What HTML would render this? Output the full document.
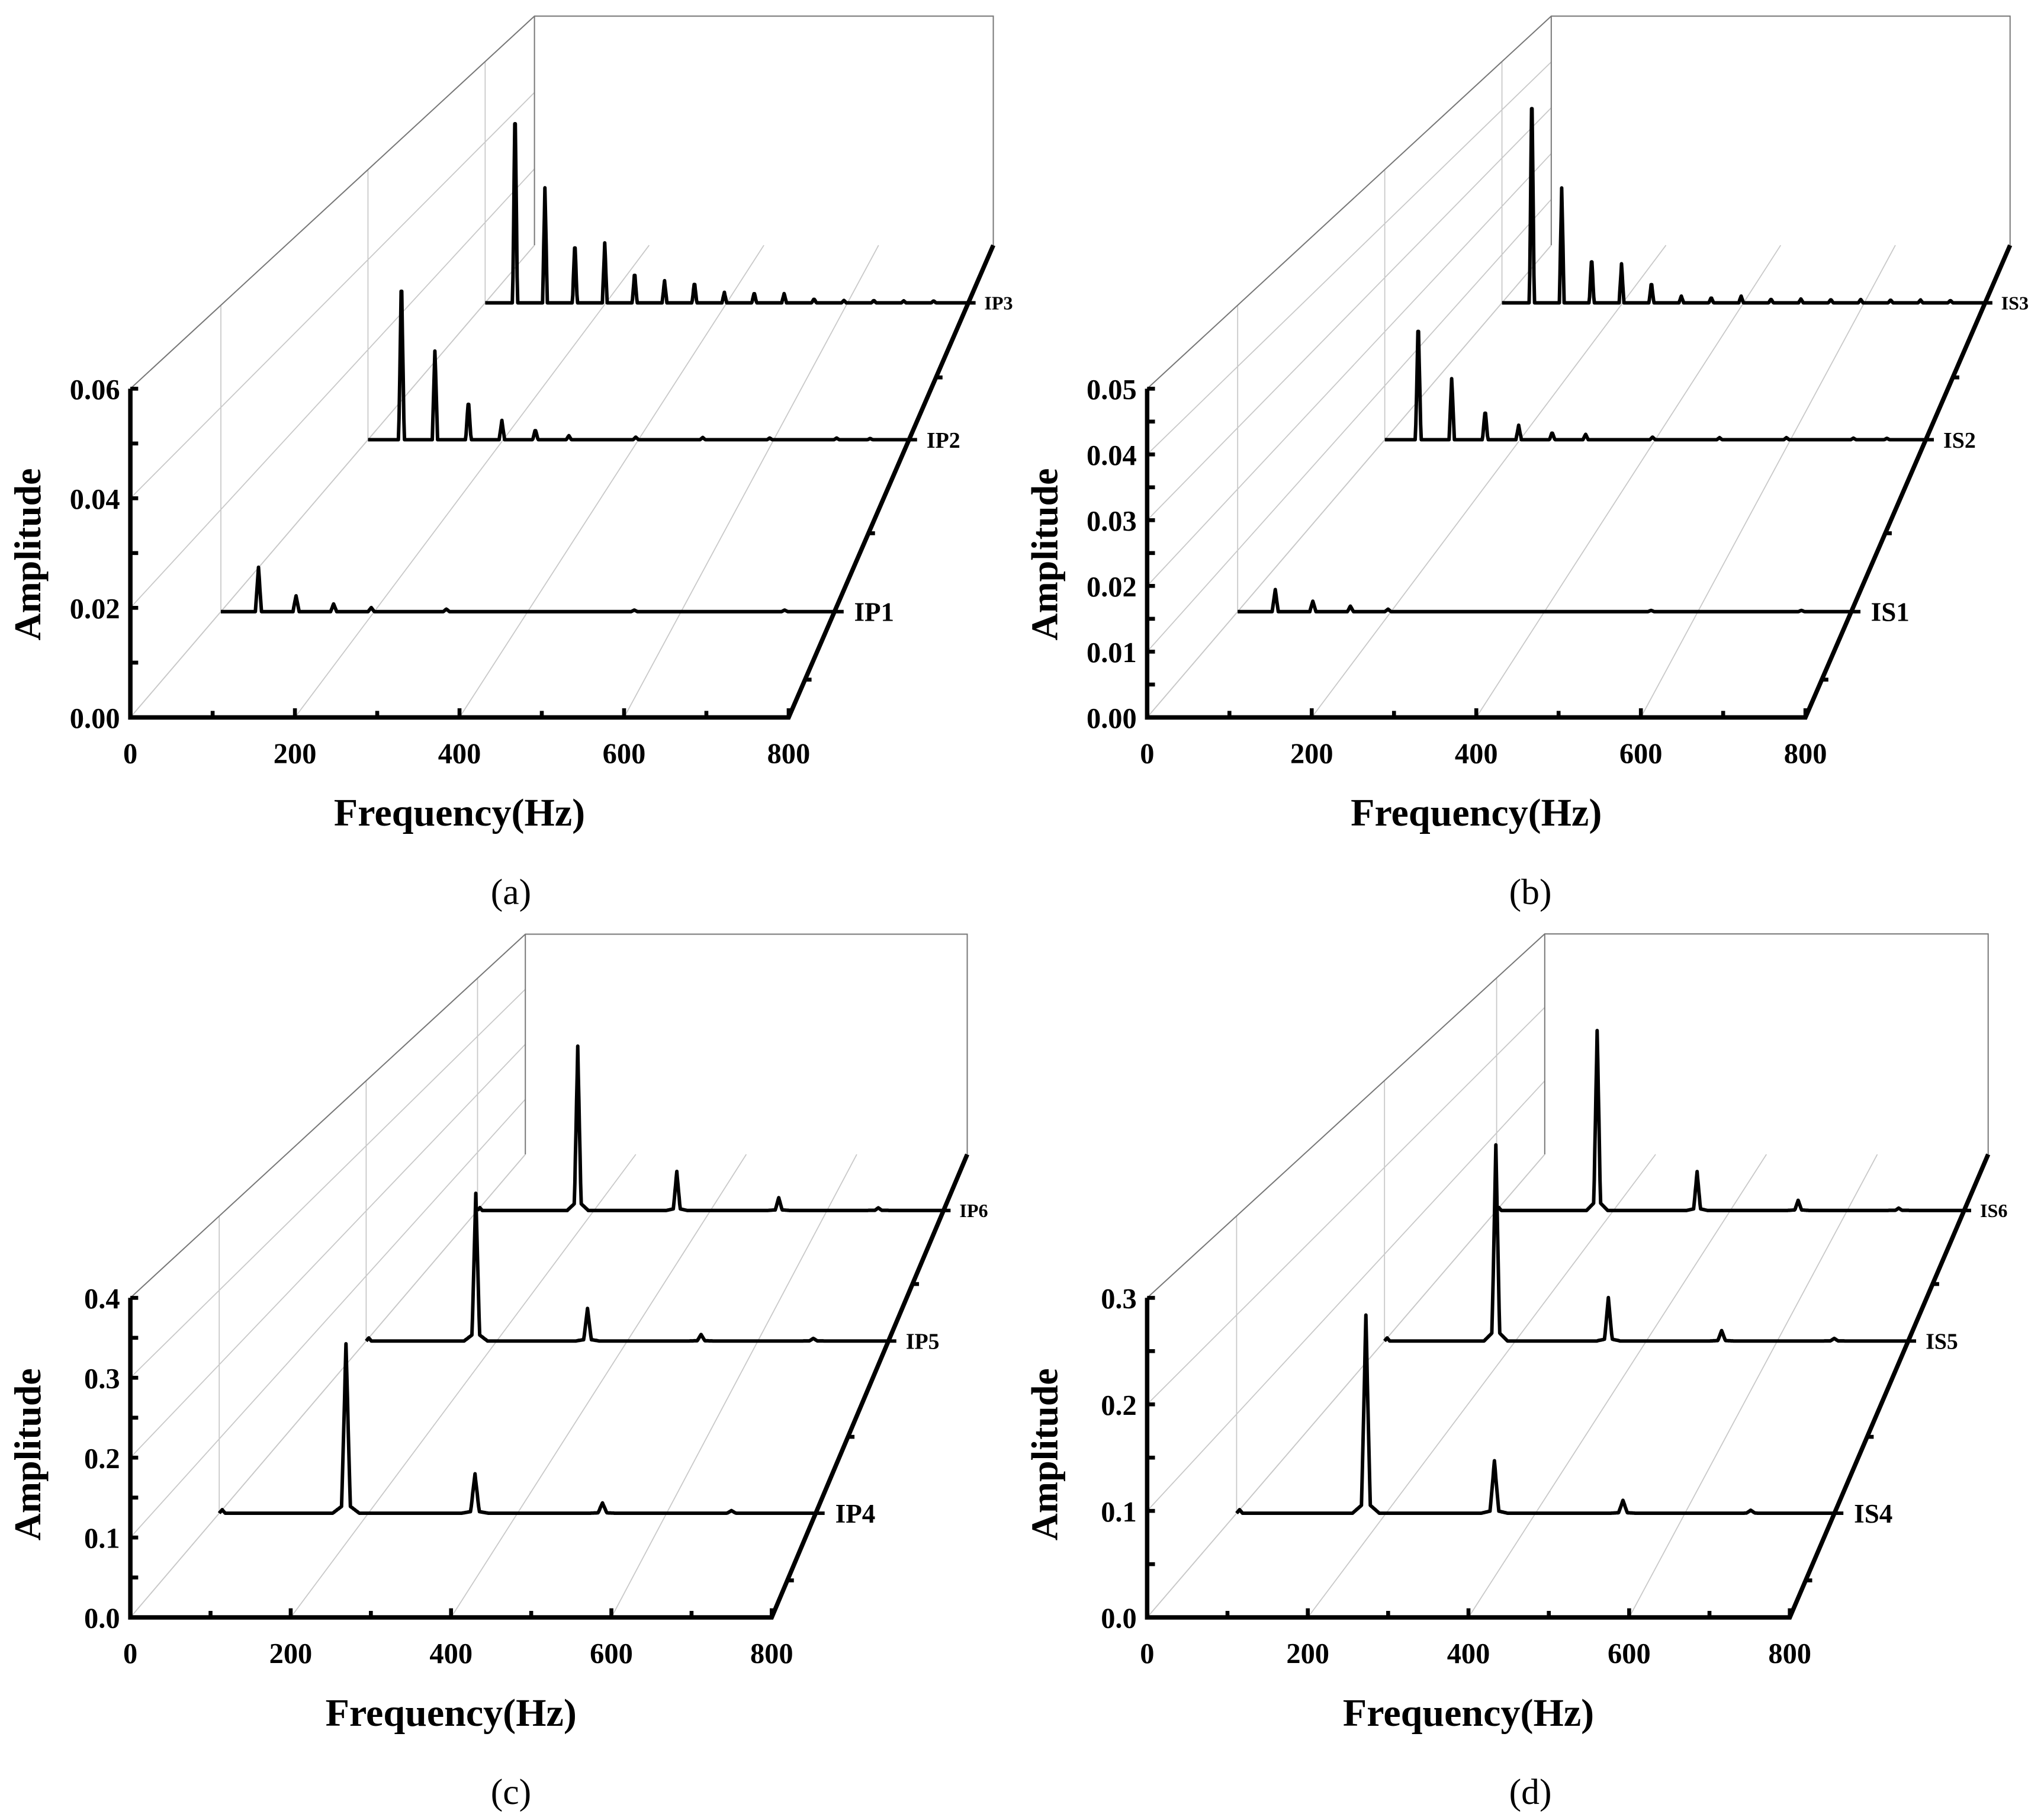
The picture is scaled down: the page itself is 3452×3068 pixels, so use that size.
<!DOCTYPE html>
<html><head><meta charset="utf-8"><style>
html,body{margin:0;padding:0;background:#fff}
svg{display:block}
text{font-family:"Liberation Serif",serif;fill:#000}
</style></head><body>
<svg id="fig" width="3452" height="3068" viewBox="0 0 1568 1393" preserveAspectRatio="none" xmlns="http://www.w3.org/2000/svg"></svg>
<script>
// ---- data ----
const seriesNamesA = ["IP1","IP2","IP3"];
const seriesNamesB = ["IS1","IS2","IS3"];
const seriesNamesC = ["IP4","IP5","IP6"];
const seriesNamesD = ["IS4","IS5","IS6"];
const depthA = [0.224,0.588,0.878];
const depthC = [0.225,0.597,0.879];
const fundA = [49,49.5,49.5];
const fundB = [49,49.5,49.5];
const ampIP1 = [0.0087,0.0031,0.0015,0.0008,0,0.0005,0,0,0,0,0.0003,0,0,0,0.0003];
const ampIP2 = [0.0377,0.0197,0.009,0.0043,0.0023,0.0009,0,0.0006,0,0.0005,0,0.0004,0,0.0004,0.0003];
const ampIP3 = [0.0509,0.0286,0.0156,0.0149,0.0078,0.0055,0.0052,0.0026,0.0026,0.0023,0.001,0.0006,0.0006,0.0005,0.0005];
const ampIS1 = [0.0036,0.0017,0.0009,0.0004,0,0,0,0,0,0,0.0002,0,0,0,0.0002];
const ampIS2 = [0.0229,0.0113,0.0056,0.0027,0.0014,0.001,0,0.0005,0,0.0004,0,0.0004,0,0.0003,0.0003];
const ampIS3 = [0.046,0.0238,0.0097,0.0081,0.0043,0.0014,0.0011,0.0014,0.0008,0.0008,0.0007,0.0007,0.0006,0.0006,0.0005];
const freqIP4 = [170,343,514,687]; const ampIP4 = [0.228,0.053,0.014,0.0035];
const freqIP5 = [168,339,513,685]; const ampIP5 = [0.227,0.05,0.01,0.004];
const freqIP6 = [172,342,517,688]; const ampIP6 = [0.283,0.067,0.022,0.0045];
const freqIS4 = [173,345,517,688]; const ampIS4 = [0.2,0.053,0.013,0.003];
const freqIS5 = [170,342,515,687]; const ampIS5 = [0.226,0.05,0.012,0.003];
const freqIS6 = [172,343,516,688]; const ampIS6 = [0.232,0.05,0.013,0.003];
const xTicks = [0,200,400,600,800];
const yTicksA = ["0.00","0.02","0.04","0.06"];
const yTicksB = ["0.00","0.01","0.02","0.03","0.04","0.05"];
const yTicksC = ["0.0","0.1","0.2","0.3","0.4"];
const yTicksD = ["0.0","0.1","0.2","0.3"];

const NS="http://www.w3.org/2000/svg";
const svg=document.getElementById('fig');
function mk(tag,attrs,parent){const e=document.createElementNS(NS,tag);for(const k in attrs)e.setAttribute(k,attrs[k]);(parent||svg).appendChild(e);return e;}

function harm(f0,amps){return amps.map((a,i)=>({f:f0*(i+1),a:a}));}
function list(fr,amps){return fr.map((f,i)=>({f:f,a:amps[i]}));}

function panel(P){
  const g=mk('g',{});
  
  
  const zmax=+P.yt[P.yt.length-1];
  const X=(f,t)=>P.ox+P.dX*t+f*(P.W/800)*(1-P.k*t);
  const Y=(z,t)=>P.oy-P.dY*t-z*(P.H/zmax)*(1-P.k*t);
  const grey={stroke:'#c8c8c8','stroke-width':0.8,fill:'none'};
  P.yt.forEach(v=>{const z=+v;const l=mk('line',Object.assign({x1:X(0,0),y1:Y(z,0),x2:X(0,1),y2:Y(z,1)},grey),g);
    });
  [0,200,400,600].forEach(f=>{const l=mk('line',Object.assign({x1:X(f,0),y1:Y(0,0),x2:X(f,1),y2:Y(0,1)},grey),g);
    });
  P.depth.forEach(t=>{const l=mk('line',Object.assign({x1:X(0,t),y1:Y(0,t),x2:X(0,t),y2:Y(zmax,t)},grey),g);
    });
  const bw=mk('path',{d:`M${X(0,0)},${Y(zmax,0)} L${X(0,1)},${Y(zmax,1)} L${X(800,1)},${Y(zmax,1)} L${X(800,1)},${Y(0,1)} M${X(0,1)},${Y(zmax,1)} L${X(0,1)},${Y(0,1)}`,stroke:'#777','stroke-width':0.9,fill:'none'},g);
  
  P.series.forEach((s,i)=>{
    const t=P.depth[i];let pts=[];
    for(let f=0;f<=800;f+=1){
      let z=0;
      s.peaks.forEach(p=>{const d=Math.abs(f-p.f);if(d<P.hw)z+=p.a*(1-d/P.hw);else if(P.skirt&&d<P.hw*3)z+=p.a*0.04*(1-(d-P.hw)/(P.hw*2));});
      if(P.skirt&&f<8)z+=zmax*0.012*(1-Math.abs(f-4)/4);
      pts.push(X(f,t).toFixed(1)+','+Y(z,t).toFixed(1));
    }
    pts.push(X(812,t).toFixed(1)+','+Y(0,t).toFixed(1));
    const pl=mk('polyline',{points:pts.join(' '),fill:'none',stroke:'#000','stroke-width':2.7,'stroke-linejoin':'round'},g);
    
    
    const fs=22.5-9*t;
    const tx=mk('text',{x:X(800,t)+14*(1-P.k*t)+2,y:Y(0,t)+fs*0.35,'font-size':fs,'font-weight':'bold'},g);
    tx.textContent=s.name;
    
    
  });
  const ax=mk('path',{d:`M${X(0,0)},${Y(zmax,0)} L${X(0,0)},${Y(0,0)} L${X(800,0)},${Y(0,0)} L${X(800,1)},${Y(0,1)}`,stroke:'#000','stroke-width':3.4,fill:'none','stroke-linejoin':'miter'},g);
  
  for(let f=100;f<=800;f+=100){const l=mk('line',{x1:X(f,0),y1:Y(0,0),x2:X(f,0),y2:Y(0,0)-(f%200?5:7),stroke:'#000','stroke-width':3},g);
    }
  xTicks.forEach(f=>{const tx=mk('text',{x:X(f,0),y:Y(0,0)+35,'font-size':22,'font-weight':'bold','text-anchor':'middle'},g);tx.textContent=f;
    });
  const step=+P.yt[1];
  for(let z=step/2;z<=zmax+1e-9;z+=step/2){const l=mk('line',{x1:X(0,0),y1:Y(z,0),x2:X(0,0)+6,y2:Y(z,0),stroke:'#000','stroke-width':3},g);
    }
  P.yt.forEach(v=>{const tx=mk('text',{x:X(0,0)-8,y:Y(+v,0)+8,'font-size':22,'font-weight':'bold','text-anchor':'end'},g);tx.textContent=v;
    });
  [0.08,0.39,0.72].forEach(t=>{const l=mk('line',{x1:X(800,t),y1:Y(0,t),x2:X(800,t)+5,y2:Y(0,t),stroke:'#000','stroke-width':3},g);
    });
  const yt=mk('text',{x:0,y:0,'font-size':29,'font-weight':'bold','text-anchor':'middle',transform:`translate(${P.ox-69},${P.oy-125}) rotate(-90)`},g);
  yt.textContent='Amplitude';
  const xt=mk('text',{x:P.ox+P.W/2,y:P.oy+83,'font-size':30,'font-weight':'bold','text-anchor':'middle'},g);
  xt.textContent='Frequency(Hz)';
  const cap=mk('text',{x:P.capX,y:P.oy+143,'font-size':28,'text-anchor':'middle'},g);
  cap.textContent=P.cap;
}

panel({id:'panel-a',ox:100,oy:550,W:505,dX:310,dY:362,H:252,k:0.303,yt:yTicksA,depth:depthA,hw:4,skirt:false,cap:'(a)',capX:392,
  series:[{name:seriesNamesA[0],peaks:harm(fundA[0],ampIP1)},{name:seriesNamesA[1],peaks:harm(fundA[1],ampIP2)},{name:seriesNamesA[2],peaks:harm(fundA[2],ampIP3)}]});
panel({id:'panel-b',ox:880,oy:550,W:505,dX:310,dY:362,H:252,k:0.303,yt:yTicksB,depth:depthA,hw:4,skirt:false,cap:'(b)',capX:1174,
  series:[{name:seriesNamesB[0],peaks:harm(fundB[0],ampIS1)},{name:seriesNamesB[1],peaks:harm(fundB[1],ampIS2)},{name:seriesNamesB[2],peaks:harm(fundB[2],ampIS3)}]});
panel({id:'panel-c',ox:100,oy:1240,W:492,dX:303,dY:355,H:245,k:0.311,yt:yTicksC,depth:depthC,hw:6,skirt:true,cap:'(c)',capX:392,
  series:[{name:seriesNamesC[0],peaks:list(freqIP4,ampIP4)},{name:seriesNamesC[1],peaks:list(freqIP5,ampIP5)},{name:seriesNamesC[2],peaks:list(freqIP6,ampIP6)}]});
panel({id:'panel-d',ox:880,oy:1240,W:493,dX:305,dY:355,H:245,k:0.31,yt:yTicksD,depth:depthC,hw:6,skirt:true,cap:'(d)',capX:1174,
  series:[{name:seriesNamesD[0],peaks:list(freqIS4,ampIS4)},{name:seriesNamesD[1],peaks:list(freqIS5,ampIS5)},{name:seriesNamesD[2],peaks:list(freqIS6,ampIS6)}]});
</script>
</body></html>
